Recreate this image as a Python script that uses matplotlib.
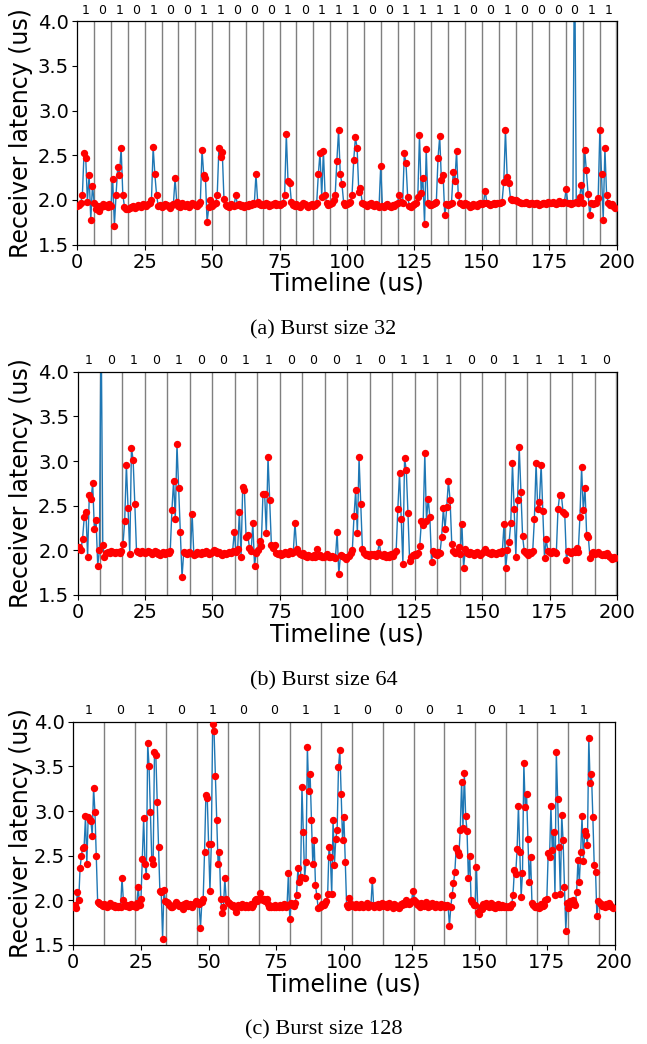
import numpy as np
import matplotlib
matplotlib.use("Agg")
import matplotlib.pyplot as plt

# ---------------- data ----------------
# Panel (a): burst size 32, 32 bits, sample step 0.625 us (10 samples per bit)
bits_a = [1,0,1,0,1,0,0,1,1,0,0,0,1,0,1,1,1,0,0,1,1,1,1,0,0,1,0,0,0,0,1,1]
step_a = 0.625
lat_a = [
    1.93,1.94,1.97,2.05,2.53,2.47,1.98,2.28,1.78,2.16,
    1.97,1.90,1.93,1.88,1.92,1.95,1.93,1.94,1.92,1.95,
    1.93,2.23,1.71,2.06,2.37,2.28,2.58,2.06,1.92,1.90,
    1.90,1.91,1.92,1.93,1.91,1.92,1.94,1.93,1.92,1.95,
    1.94,1.93,1.95,1.97,2.00,2.59,2.29,2.06,1.93,1.94,
    1.92,1.93,1.95,1.94,1.93,1.91,1.94,1.95,2.24,1.98,
    1.93,1.92,1.96,1.94,1.93,1.95,1.92,1.94,1.97,1.95,
    1.94,1.93,1.95,1.98,2.56,2.28,2.25,1.75,1.92,2.00,
    1.93,1.95,1.96,2.05,2.58,2.48,2.54,2.01,1.94,1.93,
    1.92,1.95,1.94,1.93,2.06,1.94,1.95,1.93,1.94,1.92,
    1.94,1.93,1.95,1.94,1.96,1.95,2.29,1.98,1.95,1.94,
    1.95,1.94,1.96,1.95,1.93,1.94,1.95,1.96,1.94,1.95,
    1.94,1.95,1.97,2.05,2.74,2.21,2.19,1.98,1.94,1.93,
    1.95,1.93,1.92,1.94,1.96,1.95,1.93,1.92,1.94,1.95,
    1.93,1.94,1.96,2.29,2.53,2.03,2.55,2.06,1.96,1.94,
    1.95,1.97,2.00,2.06,2.44,2.78,2.29,2.18,1.97,1.94,
    1.95,1.96,1.98,2.06,2.45,2.70,2.58,2.09,2.13,1.97,
    1.95,1.94,1.93,1.95,1.96,1.94,1.93,1.95,1.94,1.92,
    2.38,1.93,1.92,1.94,1.95,1.93,1.92,1.94,1.93,1.95,
    1.97,2.06,1.98,1.96,2.52,2.41,2.03,1.93,1.92,1.94,
    1.95,1.97,2.03,2.73,2.08,2.25,1.73,2.57,1.97,1.94,
    1.94,1.95,1.96,1.98,2.47,2.71,2.22,2.28,1.83,1.95,
    1.94,1.95,1.97,2.31,2.21,2.55,2.05,1.97,1.95,1.94,
    1.96,1.95,1.94,1.92,1.93,1.95,1.94,1.93,1.95,1.96,
    1.95,1.97,2.10,1.96,1.95,1.94,1.95,1.96,1.95,1.97,
    1.96,1.97,1.98,2.20,2.78,2.26,2.19,2.01,2.00,2.00,
    2.00,1.99,1.98,1.97,1.96,1.97,1.98,1.96,1.95,1.97,
    1.96,1.95,1.97,1.96,1.94,1.95,1.97,1.96,1.95,1.98,
    1.97,1.96,1.98,1.96,1.95,1.97,1.99,1.96,1.97,1.98,
    2.12,1.97,1.96,1.95,1.97,5.00,1.98,1.96,2.03,2.17,
    1.97,2.56,2.33,2.07,1.83,1.96,1.95,1.97,1.96,2.02,
    2.78,2.29,1.78,2.58,2.06,1.96,1.94,1.95,1.93,1.91,
]

# Panel (b): burst size 64, 24 bits, sample step 0.625 us
bits_b = [1,0,1,0,1,0,0,1,1,0,0,0,1,0,1,1,1,0,0,1,1,1,1,0]
step_b = 0.625
lat_b = [
    2.02,2.04,2.00,2.13,2.37,2.43,1.93,2.62,
    2.57,2.75,2.24,2.34,1.83,2.00,4.60,2.06,
    1.93,1.97,1.98,1.97,1.99,1.98,1.97,1.98,
    1.98,1.97,1.99,2.07,2.33,2.96,2.47,1.96,
    3.15,3.01,2.52,1.99,1.98,1.97,1.99,1.98,
    1.97,1.98,1.99,1.98,1.96,1.97,1.99,1.98,
    1.96,1.95,1.97,1.98,1.96,1.98,1.97,1.99,
    2.45,2.78,2.35,3.19,2.70,2.20,1.70,1.98,
    1.97,1.96,1.98,1.97,2.41,1.95,1.96,1.98,
    1.97,1.96,1.98,1.97,1.99,1.98,1.96,1.97,
    1.98,2.00,1.99,1.97,1.98,1.96,1.95,1.97,
    1.96,1.97,1.98,1.97,1.99,2.21,1.98,2.02,
    2.43,1.93,2.71,2.67,2.15,2.17,2.03,1.99,
    2.31,1.83,1.97,2.00,2.11,2.05,2.63,2.63,
    2.19,3.05,2.56,2.06,2.03,2.06,1.97,1.96,
    1.97,1.95,1.96,1.98,1.97,1.96,1.99,1.97,
    1.98,2.31,2.02,1.98,1.96,1.95,1.97,1.94,
    1.93,1.95,1.94,1.92,1.95,1.93,2.01,1.94,
    1.95,1.93,1.92,1.94,1.96,1.93,1.92,1.94,
    1.93,1.91,2.21,1.73,1.95,1.94,1.92,1.90,
    1.92,1.94,1.97,2.00,2.38,2.67,2.19,3.04,
    2.52,2.01,1.97,1.95,1.96,1.94,1.96,1.95,
    1.96,1.94,1.97,2.09,1.95,1.94,1.96,1.93,
    1.95,1.93,1.96,1.94,1.97,1.99,2.46,2.87,
    2.35,1.85,3.03,2.90,2.42,1.88,1.93,1.95,
    1.96,1.95,1.97,2.05,2.33,2.28,3.09,2.33,
    2.58,2.37,1.87,1.99,1.96,1.95,1.98,1.97,
    2.15,2.47,2.24,2.48,2.78,2.56,2.07,1.99,
    1.97,1.98,2.04,1.96,2.30,1.80,2.01,1.97,
    1.96,1.98,1.97,1.95,1.97,1.98,1.96,1.95,
    1.97,1.99,2.01,1.98,1.97,1.96,1.98,1.97,
    1.96,1.97,1.98,1.97,1.99,2.30,1.80,2.00,
    2.09,2.31,2.98,2.46,1.93,2.56,3.16,2.65,
    2.16,1.99,1.97,1.95,1.98,1.97,1.99,2.35,
    2.98,2.46,2.54,2.96,2.44,1.91,2.13,1.99,
    1.98,1.97,1.99,1.98,1.97,2.46,2.62,2.62,
    2.43,2.41,1.89,1.99,1.98,1.97,1.99,1.98,
    2.03,1.98,2.37,2.93,2.45,2.70,2.17,2.15,
    1.91,1.97,1.98,1.96,1.97,1.98,1.96,1.95,
    1.96,1.95,1.97,1.94,1.93,1.90,1.92,1.91,
]

# Panel (c): burst size 128, 17 bits, sample step 0.5 us
bits_c = [1,0,1,0,1,0,0,1,1,0,0,0,1,0,1,1,1]
bit_period_c = 11.43
step_c = 0.5
lat_c = [
    1.93,1.95,1.91,2.09,2.00,2.36,2.50,2.59,2.60,2.94,
    2.41,2.93,2.90,2.89,2.72,3.26,2.99,2.50,1.98,1.97,
    1.96,1.95,1.94,1.96,1.95,1.93,1.94,1.97,1.95,1.94,
    1.95,1.93,1.94,1.92,1.94,1.93,2.25,2.00,1.95,1.94,
    1.95,1.93,1.94,1.96,1.94,1.95,1.93,1.97,2.15,1.95,
    2.01,2.46,2.92,2.41,2.27,3.76,3.50,2.99,2.46,2.41,
    3.66,3.63,3.10,2.60,2.10,2.09,1.57,2.12,1.99,1.98,
    1.97,1.95,1.93,1.92,1.94,1.96,1.98,1.96,1.94,1.95,
    1.94,1.90,1.96,1.97,1.95,1.94,1.96,1.95,1.93,1.96,
    1.97,1.99,1.98,1.96,1.69,1.98,2.02,2.54,3.18,3.15,
    2.63,2.11,2.63,3.97,3.90,3.39,2.90,2.41,2.54,2.01,
    1.86,1.92,2.25,2.01,1.98,1.97,1.96,1.94,1.95,1.93,
    1.87,1.93,1.95,1.94,1.92,1.96,1.94,1.93,1.95,1.92,
    1.94,1.96,1.93,1.95,2.00,2.01,1.99,2.02,2.08,2.01,
    2.00,2.02,1.99,2.01,1.96,1.93,1.92,1.94,1.93,1.95,
    1.92,1.94,1.93,1.95,1.92,1.94,1.96,1.93,1.95,2.31,
    1.79,1.97,1.95,1.94,1.97,2.06,2.36,2.20,2.26,3.27,
    2.77,2.25,2.43,3.72,3.22,3.42,2.90,2.41,2.67,2.17,
    2.05,1.91,1.92,1.94,1.96,1.95,1.97,1.99,2.07,2.60,
    2.48,2.07,2.90,2.40,2.69,2.79,3.49,3.68,3.19,2.68,
    2.93,2.43,1.95,1.93,2.03,1.96,1.94,1.95,1.93,1.96,
    1.94,1.92,1.95,1.96,1.93,1.94,1.95,1.97,1.93,1.95,
    1.95,2.23,1.93,1.95,1.94,1.96,1.92,1.95,1.97,1.94,
    1.95,1.96,1.93,1.97,1.95,1.94,1.91,1.96,1.95,1.93,
    1.94,1.91,1.96,1.95,1.97,1.96,2.00,1.98,1.96,1.97,
    1.99,2.10,2.00,1.98,1.96,1.95,1.93,1.97,1.96,1.94,
    1.95,1.98,1.93,1.96,1.94,1.97,1.95,1.93,1.96,1.94,
    1.95,1.93,1.96,1.94,1.95,1.93,1.95,1.94,1.71,1.93,
    2.06,2.19,2.32,2.59,2.54,2.51,2.79,3.33,2.81,3.43,
    2.94,2.78,2.25,2.50,2.00,1.98,1.95,1.95,2.37,1.87,
    1.85,1.92,1.90,1.96,1.94,1.97,1.95,1.92,1.96,1.97,
    1.93,1.95,1.91,1.94,1.96,1.92,1.93,1.95,1.92,1.94,
    1.93,1.92,1.94,1.93,1.96,2.06,2.34,2.30,2.57,3.06,
    2.54,2.04,2.31,3.54,3.04,3.19,2.69,2.20,2.48,1.97,
    1.95,1.93,1.92,1.94,1.91,1.93,1.96,1.94,1.95,2.00,
    2.02,2.53,2.48,3.06,2.56,2.77,2.06,3.66,3.13,2.60,
    2.07,2.96,2.67,2.15,1.66,1.97,1.91,1.99,1.96,2.00,
    1.97,1.95,2.09,2.45,2.20,2.54,2.94,2.44,2.78,2.73,
    2.62,3.82,3.31,3.41,2.93,2.40,2.32,1.82,1.99,1.97,
    1.96,1.94,1.95,1.93,1.96,1.94,1.97,1.95,1.93,1.91,
]

captions = ["(a) Burst size 32", "(b) Burst size 64", "(c) Burst size 128"]
x_ticks = [0, 25, 50, 75, 100, 125, 150, 175, 200]
y_ticks = [1.5, 2.0, 2.5, 3.0, 3.5, 4.0]

# ---------------- figure ----------------
W, H = 647, 1044
fig = plt.figure(figsize=(W / 100, H / 100), dpi=100)

panels = [
    dict(lat=lat_a, step=step_a, bits=bits_a, period=200 / len(bits_a),
         box=(77.3, 616.7, 21.3, 244.5), cap_y=330, lab_y=10),
    dict(lat=lat_b, step=step_b, bits=bits_b, period=200 / len(bits_b),
         box=(77.5, 617.0, 371.7, 595.0), cap_y=681, lab_y=360),
    dict(lat=lat_c, step=step_c, bits=bits_c, period=bit_period_c,
         box=(73.3, 614.5, 721.7, 945.0), cap_y=1030, lab_y=710),
]

for p, cap in zip(panels, captions):
    l, r, t, b = p["box"]
    ax = fig.add_axes([l / W, 1 - b / H, (r - l) / W, (b - t) / H])
    y = np.array(p["lat"])
    x = np.arange(len(y)) * p["step"]
    T = p["period"]
    n_lines = int(np.floor(200 / T + 1e-6))
    for k in range(1, n_lines + 1):
        xv = k * T
        if abs(xv - 200) < 1e-6:
            ax.axvline(xv, color="#a0a0a0", lw=2.5, zorder=1)
        else:
            ax.axvline(xv, color="#7f7f7f", lw=1.0, zorder=1)
    ax.plot(x, y, color="#1f77b4", lw=1.0, zorder=2)
    ax.plot(x, y, "o", color="red", ms=5.3, mew=0, zorder=3)
    ax.set_xlim(0, 200)
    ax.set_ylim(1.5, 4.0)
    ax.set_xticks(x_ticks)
    ax.set_yticks(y_ticks)
    ax.set_yticklabels([f"{v:.1f}" for v in y_ticks])
    ax.tick_params(labelsize=14, length=3.5, width=0.8, pad=2.5)
    ax.set_xlabel("Timeline (us)", fontsize=17, labelpad=0)
    ax.set_ylabel("Receiver latency (us)", fontsize=17)
    ax.yaxis.set_label_coords(-(l - 33) / (r - l), 0.5)
    for sp in ax.spines.values():
        sp.set_linewidth(0.9)
    for i, bit in enumerate(p["bits"]):
        xc = (i + 0.5) * T
        fig.text((l + xc / 200 * (r - l)) / W, 1 - p["lab_y"] / H, str(bit),
                 ha="center", va="center", fontsize=9)
    fig.text(0.5, 1 - p["cap_y"] / H, cap, ha="center", va="center",
             fontsize=16, family="Liberation Serif")

fig.savefig("out.png", dpi=100)
